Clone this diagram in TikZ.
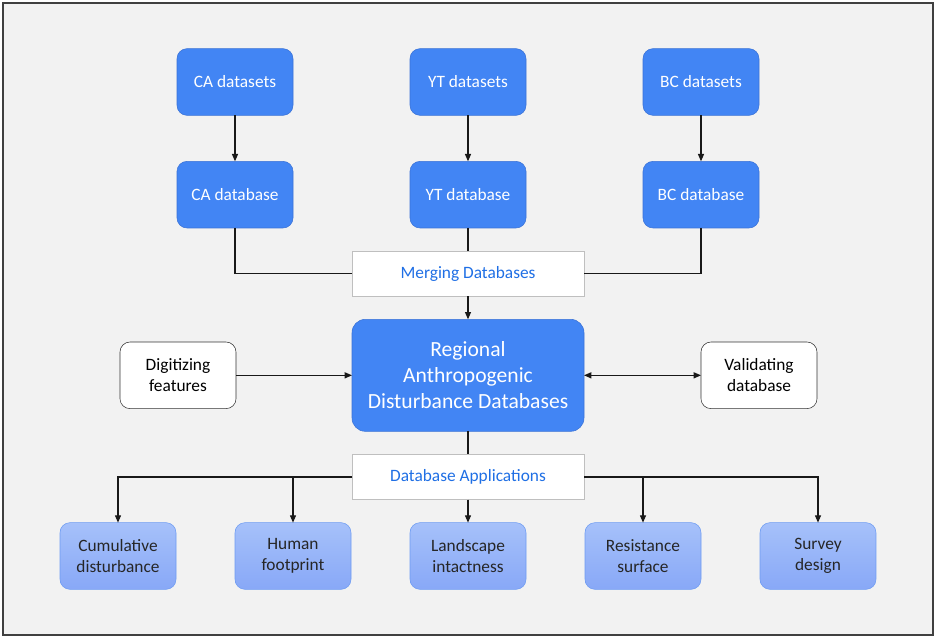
\documentclass[tikz,border=0pt]{standalone}
\usepackage{fontspec}
\setmainfont{Carlito}
\usetikzlibrary{
	arrows.meta,
	positioning,
	calc
}

\definecolor{srcblue}{HTML}{4285F4}
\definecolor{srcedge}{HTML}{3A72D6}
\definecolor{appstop}{HTML}{A6C1FA}
\definecolor{appsbot}{HTML}{88A8F7}
\definecolor{appsedge}{HTML}{6E9CF2}
\definecolor{labelblue}{HTML}{1F6FE5}
\definecolor{panelgrey}{HTML}{F2F2F2}
\definecolor{framegrey}{HTML}{404040}

\begin{document}
\begin{tikzpicture}[
    x=0.75pt, y=-0.75pt,
    node distance=34.5pt and 87.75pt,
    srcbox/.style={rectangle, draw=srcedge, fill=srcblue, rounded corners=7.5pt, minimum width=87pt, minimum height=50pt, outer sep=0pt, align=center, text=white, font=\fontsize{13}{15.75}\selectfont},
    sidebox/.style={rectangle, draw=black!80, fill=white, rounded corners=7.5pt, minimum width=87pt, minimum height=50pt, outer sep=0pt, align=center, font=\fontsize{13}{15.75}\selectfont},
    appbox/.style={rectangle, draw=appsedge, top color=appstop, bottom color=appsbot, rounded corners=7.5pt, minimum width=87pt, minimum height=50pt, outer sep=0pt, align=center, text=black!85, font=\fontsize{13}{15.75}\selectfont},
    stagebox/.style={rectangle, draw=black!25, fill=white, minimum width=174pt, minimum height=34pt, outer sep=0pt, text=labelblue, font=\fontsize{13}{15.75}\selectfont},
    link/.style={line width=0.9pt, draw=black!90},
    arrow/.style={link, -{Triangle[length=5.5pt, width=4.5pt]}}
]

% Panel
\fill[white] (0,0) rectangle (936,638);
\draw[fill=panelgrey, draw=framegrey, line width=1.1pt] (3,3) rectangle (933,635);
\useasboundingbox (0,0) rectangle (936,638);

% Regional sources
\node[srcbox] (ytdata) at (468,82) {YT datasets};
\node[srcbox, left=of ytdata] (cadata) {CA datasets};
\node[srcbox, right=of ytdata] (bcdata) {BC datasets};

\node[srcbox, below=of cadata] (cabase) {CA database};
\node[srcbox, below=of ytdata] (ytbase) {YT database};
\node[srcbox, below=of bcdata] (bcbase) {BC database};

% Merging
\node[stagebox, below=17.25pt of ytbase] (merge) {Merging Databases};

\node[srcbox, below=17.25pt of merge, minimum width=174pt, minimum height=84pt, rounded corners=10pt, font=\fontsize{16.2}{19.5}\selectfont] (central) {Regional\\Anthropogenic\\Disturbance Databases};

\node[sidebox, left=87pt of central] (digit) {Digitizing\\features};
\node[sidebox, right=87.75pt of central] (valid) {Validating\\database};

% Applications
\node[stagebox, below=17.25pt of central] (apps) {Database Applications};

\node[appbox, below=17.25pt of apps] (landscape) {Landscape\\intactness};
\node[appbox, left=44.25pt of landscape] (human) {Human\\footprint};
\node[appbox, left=44.25pt of human] (cumul) {Cumulative\\disturbance};
\node[appbox, right=44.25pt of landscape] (resist) {Resistance\\surface};
\node[appbox, right=44.25pt of resist] (survey) {Survey\\design};

% Connectors
\draw[arrow] (cadata) -- (cabase);
\draw[arrow] (ytdata) -- (ytbase);
\draw[arrow] (bcdata) -- (bcbase);

\draw[link] (cabase) |- (merge);
\draw[link] (ytbase) -- (merge);
\draw[link] (bcbase) |- (merge);
\draw[arrow] (merge) -- (central);

\draw[arrow] (digit) -- (central);
\draw[arrow, {Triangle[length=5.5pt, width=4.5pt]}-{Triangle[length=5.5pt, width=4.5pt]}] (central) -- (valid);

\draw[link] (central) -- (apps);
\draw[arrow] (apps) -| (cumul);
\draw[arrow] (apps) -| (human);
\draw[arrow] (apps) -- (landscape);
\draw[arrow] (apps) -| (resist);
\draw[arrow] (apps) -| (survey);

\end{tikzpicture}
\end{document}
